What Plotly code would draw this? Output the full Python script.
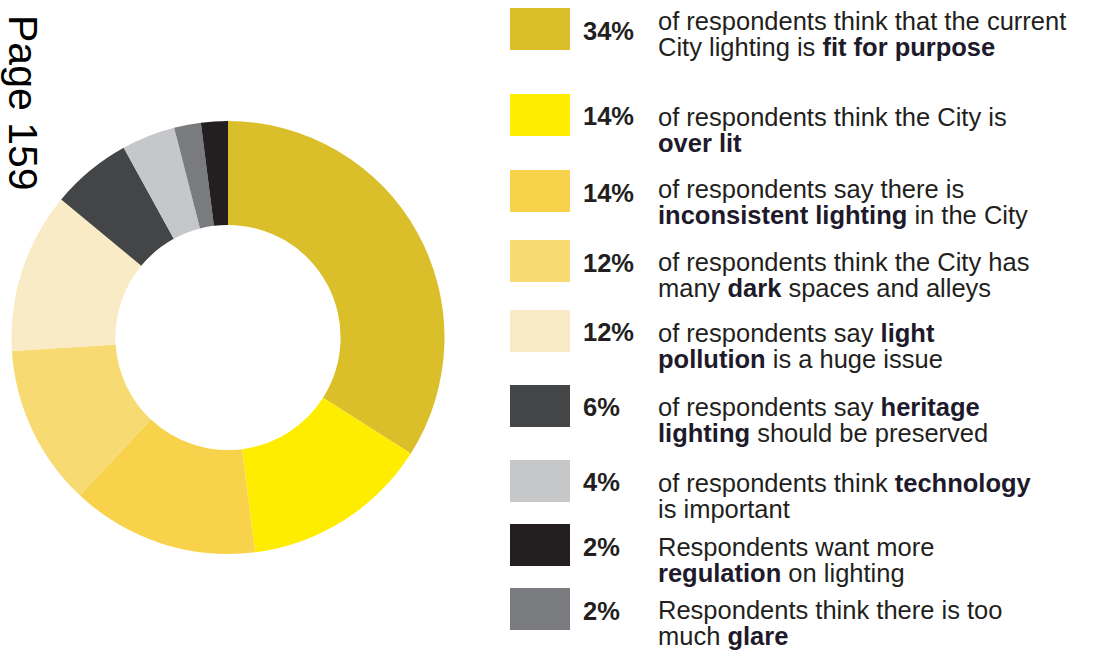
import plotly.graph_objects as go

# ---- data (pie order, clockwise from 12 o'clock) ----
categories = ["fit for purpose", "over lit", "inconsistent lighting", "dark spaces",
              "light pollution", "heritage lighting", "technology", "glare", "regulation"]
values = [34, 14, 14, 12, 12, 6, 4, 2, 2]
colors = ["#DABF2B", "#FFED00", "#F8D24A", "#F7DB72", "#F8EBC6",
          "#444547", "#C6C7C9", "#7A7B7F", "#231F20"]

# ---- legend (order as listed on the right) ----
legend_order = ["fit for purpose", "over lit", "inconsistent lighting", "dark spaces",
                "light pollution", "heritage lighting", "technology", "regulation", "glare"]
legend_line1 = [
    "of respondents think that the current",
    "of respondents think the City is",
    "of respondents say there is",
    "of respondents think the City has",
    "of respondents say <b>light</b>",
    "of respondents say <b>heritage</b>",
    "of respondents think <b>technology</b>",
    "Respondents want more",
    "Respondents think there is too",
]
legend_line2 = [
    "City lighting is <b>fit for purpose</b>",
    "<b>over lit</b>",
    "<b>inconsistent lighting</b> in the City",
    "many <b>dark</b> spaces and alleys",
    "<b>pollution</b> is a huge issue",
    "<b>lighting</b> should be preserved",
    "is important",
    "<b>regulation</b> on lighting",
    "much <b>glare</b>",
]
page_label = "Page 159"

# ---- layout constants (pixels) ----
W, H = 1093, 651
FONT = "Liberation Sans, Arial, Helvetica, sans-serif"
TXT = "#231F20"
BOLD = "#1E1A2B"
FS = 25.5
box_tops = [8, 94, 170, 240, 310, 385, 460, 524, 588]
box_h = 42
pct_y = [31, 116, 193, 263, 332, 407, 482, 547, 611]
l1_y = [21, 117, 189, 262, 333, 407, 483, 547, 610]
LINE_GAP = 26


def px(x):
    return x / W


def py(y):
    return 1 - y / H


def styled(t):
    return t.replace("<b>", f"<b style='color:{BOLD}'>")


fig = go.Figure(go.Pie(
    labels=categories, values=values, sort=False, direction="clockwise", rotation=0,
    hole=0.52, marker=dict(colors=colors, line=dict(width=0)),
    textinfo="none", hoverinfo="label+percent",
    domain=dict(x=[px(11), px(445)], y=[py(554), py(121)]),
))

shapes = []
annotations = []
color_of = dict(zip(categories, colors))
value_of = dict(zip(categories, values))
for i, cat in enumerate(legend_order):
    shapes.append(dict(type="rect", xref="paper", yref="paper",
                       x0=px(510), x1=px(570), y0=py(box_tops[i] + box_h), y1=py(box_tops[i]),
                       fillcolor=color_of[cat], line=dict(width=0)))
    annotations.append(dict(text=f"<b>{value_of[cat]}%</b>", xref="paper", yref="paper",
                            x=px(582), y=py(pct_y[i]), xanchor="left", yanchor="middle",
                            showarrow=False, borderpad=0,
                            font=dict(family=FONT, size=FS, color=TXT)))
    for txt, yy in ((legend_line1[i], l1_y[i]), (legend_line2[i], l1_y[i] + LINE_GAP)):
        annotations.append(dict(text=styled(txt), xref="paper", yref="paper",
                                x=px(657), y=py(yy), xanchor="left", yanchor="middle",
                                showarrow=False, borderpad=0,
                                font=dict(family=FONT, size=FS, color=TXT)))

annotations.append(dict(text=page_label, xref="paper", yref="paper", x=px(23), y=py(103),
                        xanchor="center", yanchor="middle", textangle=90, showarrow=False,
                        borderpad=0, font=dict(family=FONT, size=41, color="#000000")))

fig.update_layout(width=W, height=H, margin=dict(l=0, r=0, t=0, b=0),
                  paper_bgcolor="white", plot_bgcolor="white", showlegend=False,
                  shapes=shapes, annotations=annotations)
fig.write_html("out.html")
